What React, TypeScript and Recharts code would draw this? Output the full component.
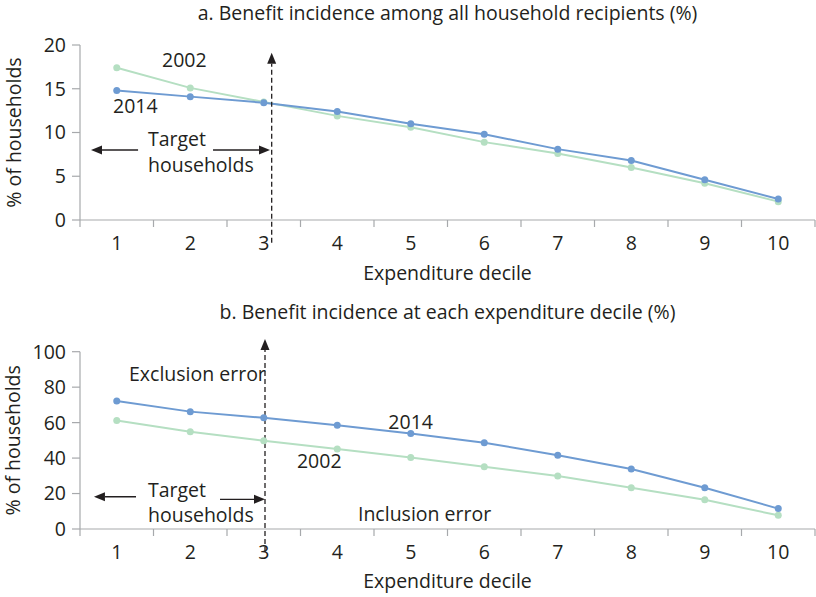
import React from 'react';
import { LineChart, Line, XAxis, YAxis, ReferenceLine, ReferenceDot, Label } from 'recharts';

const deciles = [1, 2, 3, 4, 5, 6, 7, 8, 9, 10];
const share2002 = [17.4, 15.1, 13.5, 11.9, 10.6, 8.9, 7.6, 6.0, 4.2, 2.1];
const share2014 = [14.8, 14.1, 13.4, 12.4, 11.0, 9.8, 8.1, 6.8, 4.6, 2.4];
const incidence2002 = [61.2, 54.8, 49.8, 45.1, 40.3, 35.1, 29.9, 23.3, 16.5, 7.7];
const incidence2014 = [72.2, 66.2, 62.7, 58.5, 53.8, 48.7, 41.6, 33.8, 23.3, 11.5];
const shareTicks = [0, 5, 10, 15, 20];
const incidenceTicks = [0, 20, 40, 60, 80, 100];
// labels on whole deciles, tick marks on the half steps between them
const decileTicks = [0.5, 1, 1.5, 2, 2.5, 3, 3.5, 4, 4.5, 5, 5.5, 6, 6.5, 7, 7.5, 8, 8.5, 9, 9.5, 10, 10.5];

const BLUE = '#6e9bd2';
const GREEN = '#b5dfc2';
const AXIS = '#a7a9ac';
const INK = '#231f20';
const FONT = '"Open Sans", sans-serif';
const FS = 19.5;

const topData = deciles.map((d, i) => ({ decile: d, y2002: share2002[i], y2014: share2014[i] }));
const bottomData = deciles.map((d, i) => ({ decile: d, y2002: incidence2002[i], y2014: incidence2014[i] }));

const DecileTick = (props: any) => {
  const { x, y, payload } = props;
  const v = payload.value;
  if (Number.isInteger(v)) {
    return (
      <text x={x} y={y + 30} textAnchor="middle" fill={INK} fontSize={FS} fontFamily={FONT}>
        {v}
      </text>
    );
  }
  return <line x1={x} x2={x} y1={y} y2={y + 7} stroke={AXIS} strokeWidth={1.2} />;
};

const YLabel = (props: any) => {
  const vb = props.viewBox;
  const cx = 13;
  const cy = vb.y + vb.height / 2;
  return (
    <text
      x={cx}
      y={cy}
      transform={`rotate(-90 ${cx} ${cy})`}
      textAnchor="middle"
      dominantBaseline="central"
      fill={INK}
      fontSize={FS}
      fontFamily={FONT}
    >
      % of households
    </text>
  );
};

const arrow = (dashed: boolean) => (p: any) => {
  const { x1, y1, x2, y2 } = p;
  const dx = x2 - x1;
  const dy = y2 - y1;
  const len = Math.hypot(dx, dy) || 1;
  const ux = dx / len;
  const uy = dy / len;
  const bx = x2 - ux * 11;
  const by = y2 - uy * 11;
  const nx = -uy * 4.5;
  const ny = ux * 4.5;
  return (
    <g>
      <line x1={x1} y1={y1} x2={bx} y2={by} stroke={INK} strokeWidth={1.3} strokeDasharray={dashed ? '5 3' : undefined} />
      <polygon points={`${x2},${y2} ${bx + nx},${by + ny} ${bx - nx},${by - ny}`} fill={INK} />
    </g>
  );
};

const note = (text: string) => (p: any) => (
  <text x={p.cx} y={p.cy} fill={INK} fontSize={FS} fontFamily={FONT}>
    {text}
  </text>
);

const Title: React.FC<{ text: string; top: number }> = ({ text, top }) => (
  <div
    style={{
      position: 'absolute',
      left: 80,
      width: 735,
      top,
      textAlign: 'center',
      fontFamily: FONT,
      fontSize: FS,
      color: INK,
      lineHeight: '24px',
      whiteSpace: 'nowrap',
    }}
  >
    {text}
  </div>
);

const series = (data: any[]) => [
  <Line
    key="g"
    data={data}
    type="linear"
    dataKey="y2002"
    stroke={GREEN}
    strokeWidth={2}
    dot={{ r: 3.5, fill: GREEN, stroke: GREEN, strokeWidth: 0 }}
    activeDot={false}
    isAnimationActive={false}
  />,
  <Line
    key="b"
    data={data}
    type="linear"
    dataKey="y2014"
    stroke={BLUE}
    strokeWidth={2}
    dot={{ r: 3.5, fill: BLUE, stroke: BLUE, strokeWidth: 0 }}
    activeDot={false}
    isAnimationActive={false}
  />,
];

const xAxis = (height: number, offset: number) => (
  <XAxis
    dataKey="decile"
    type="number"
    domain={[0.5, 10.5]}
    ticks={decileTicks}
    interval={0}
    tickSize={0}
    tickMargin={0}
    tickLine={false}
    tick={<DecileTick />}
    axisLine={{ stroke: AXIS, strokeWidth: 1.2 }}
    height={height}
    allowDecimals
  >
    <Label value="Expenditure decile" position="insideBottom" offset={offset} fill={INK} fontSize={FS} fontFamily={FONT} />
  </XAxis>
);

const yAxis = (domain: number[], ticks: number[]) => (
  <YAxis
    type="number"
    domain={domain}
    ticks={ticks}
    interval={0}
    width={80}
    tickSize={8}
    tickMargin={6}
    tickLine={{ stroke: AXIS, strokeWidth: 1.2 }}
    axisLine={{ stroke: AXIS, strokeWidth: 1.2 }}
    tick={{ fill: INK, fontSize: FS, fontFamily: FONT }}
  >
    <Label content={<YLabel />} />
  </YAxis>
);

export default function App() {
  return (
    <div style={{ position: 'absolute', left: 0, top: 0, width: 816, height: 597, background: '#fff' }}>
      <Title text="a. Benefit incidence among all household recipients (%)" top={1} />
      <Title text="b. Benefit incidence at each expenditure decile (%)" top={300} />
      <div style={{ position: 'absolute', left: 0, top: 0 }}>
        <LineChart width={816} height={290} data={topData} margin={{ top: 45, right: 1, left: 0, bottom: 0 }}>
          {xAxis(70, 10)}
          {yAxis([0, 20], shareTicks)}
          {series(topData)}
          <ReferenceLine segment={[{ x: 3.108, y: -2.6 }, { x: 3.108, y: 19.12 }]} ifOverflow="visible" shape={arrow(true)} />
          <ReferenceLine segment={[{ x: 1.29, y: 8.0 }, { x: 0.65, y: 8.0 }]} ifOverflow="visible" shape={arrow(false)} />
          <ReferenceLine segment={[{ x: 2.31, y: 8.0 }, { x: 3.085, y: 8.0 }]} ifOverflow="visible" shape={arrow(false)} />
          <ReferenceDot x={1.616} y={17.5} r={0} ifOverflow="visible" shape={note('2002')} />
          <ReferenceDot x={0.949} y={12.2} r={0} ifOverflow="visible" shape={note('2014')} />
          <ReferenceDot x={1.425} y={8.46} r={0} ifOverflow="visible" shape={note('Target')} />
          <ReferenceDot x={1.425} y={5.54} r={0} ifOverflow="visible" shape={note('households')} />
        </LineChart>
      </div>
      <div style={{ position: 'absolute', left: 0, top: 300 }}>
        <LineChart width={816} height={297} data={bottomData} margin={{ top: 51.7, right: 1, left: 0, bottom: 0 }}>
          {xAxis(68, 9)}
          {yAxis([0, 100], incidenceTicks)}
          {series(bottomData)}
          <ReferenceLine segment={[{ x: 3.017, y: -13 }, { x: 3.017, y: 107.2 }]} ifOverflow="visible" shape={arrow(true)} />
          <ReferenceLine segment={[{ x: 1.262, y: 18.2 }, { x: 0.69, y: 18.2 }]} ifOverflow="visible" shape={arrow(false)} />
          <ReferenceLine segment={[{ x: 2.405, y: 16.75 }, { x: 3.017, y: 16.75 }]} ifOverflow="visible" shape={arrow(false)} />
          <ReferenceDot x={1.167} y={83.6} r={0} ifOverflow="visible" shape={note('Exclusion error')} />
          <ReferenceDot x={4.695} y={56.2} r={0} ifOverflow="visible" shape={note('2014')} />
          <ReferenceDot x={3.452} y={34.2} r={0} ifOverflow="visible" shape={note('2002')} />
          <ReferenceDot x={1.425} y={18.2} r={0} ifOverflow="visible" shape={note('Target')} />
          <ReferenceDot x={1.425} y={4.1} r={0} ifOverflow="visible" shape={note('households')} />
          <ReferenceDot x={4.282} y={4.7} r={0} ifOverflow="visible" shape={note('Inclusion error')} />
        </LineChart>
      </div>
    </div>
  );
}
